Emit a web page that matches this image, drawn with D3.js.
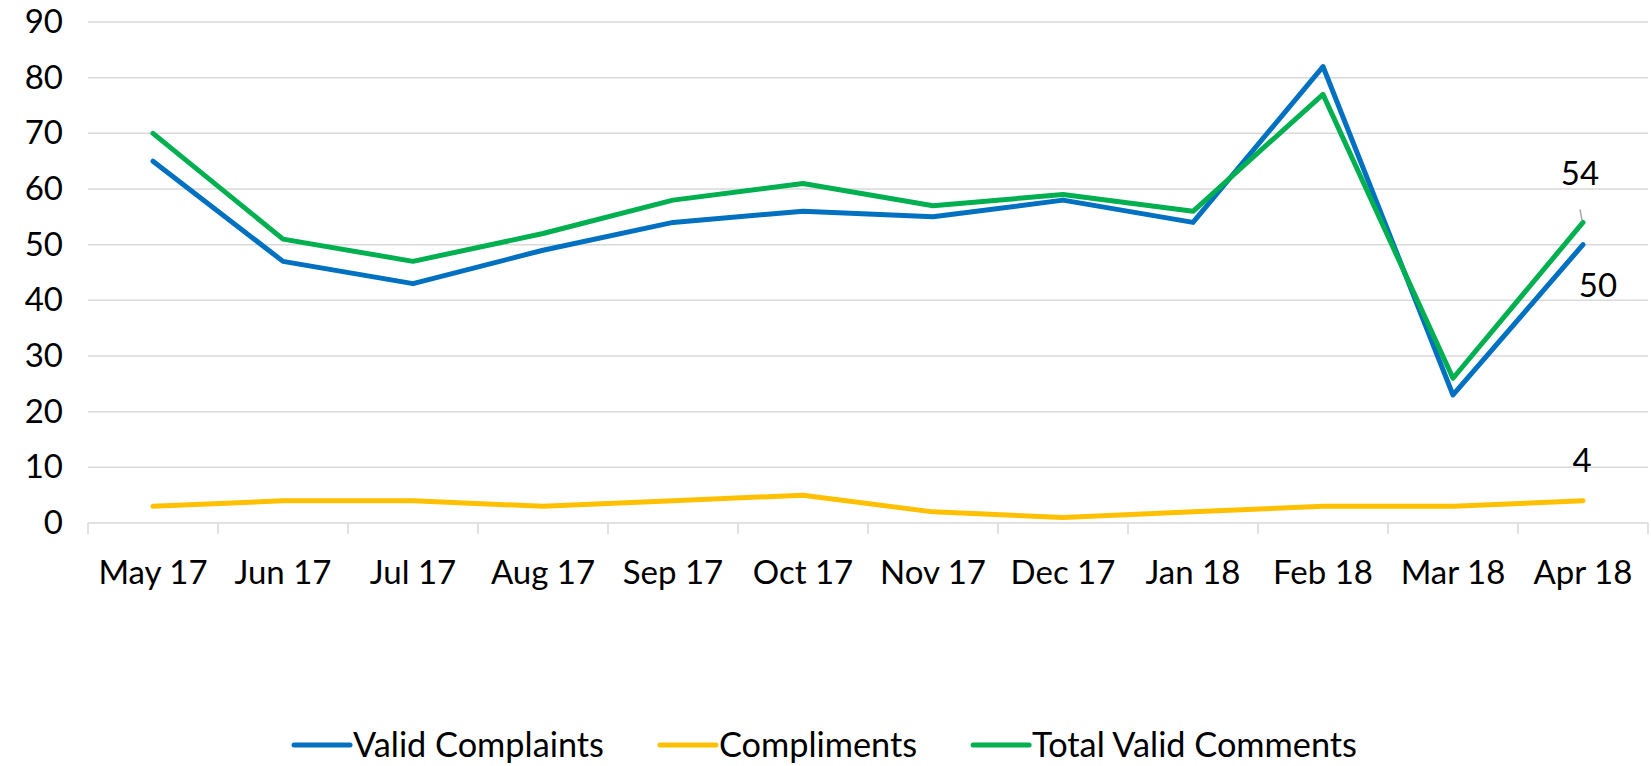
<!DOCTYPE html>
<html>
<head>
<meta charset="utf-8">
<script src="https://cdn.jsdelivr.net/npm/d3@7"></script>
<style>
  body { margin: 0; background: #fff; }
  text { font-family: Lato, "Open Sans", sans-serif; fill: #000; }
</style>
</head>
<body>
<div id="chart"></div>
<script>
// Chart data
const months = ["May 17", "Jun 17", "Jul 17", "Aug 17", "Sep 17", "Oct 17",
                "Nov 17", "Dec 17", "Jan 18", "Feb 18", "Mar 18", "Apr 18"];
const validComplaints = [65, 47, 43, 49, 54, 56, 55, 58, 54, 82, 23, 50];
const compliments = [3, 4, 4, 3, 4, 5, 2, 1, 2, 3, 3, 4];
const totalValidComments = [70, 51, 47, 52, 58, 61, 57, 59, 56, 77, 26, 54];
const yTicks = [0, 10, 20, 30, 40, 50, 60, 70, 80, 90];
const seriesNames = ["Valid Complaints", "Compliments", "Total Valid Comments"];

const width = 1651;
const height = 766;
const margin = ({ top: 22, right: 3, bottom: 243, left: 88 });
const colors = ["#0070C0", "#FFC000", "#00B050"];
const gridColor = "#d9d9d9";
const fontSize = 33;
const legendFontSize = 34.3;

const series = [validComplaints, compliments, totalValidComments].map((vals, i) => ({
    name: seriesNames[i],
    color: colors[i],
    values: vals.map((v, j) => ({ month: months[j], value: v }))
}));

var svg = d3.select("#chart").append("svg")
    .attr("width", width)
    .attr("height", height);

const xScale = d3.scaleBand()
    .domain(months)
    .range([margin.left, width - margin.right]);

const yScale = d3.scaleLinear()
    .domain([0, 90])
    .range([height - margin.bottom, margin.top]);

// horizontal gridlines
svg.append("g")
    .selectAll("line")
    .data(yTicks.filter(d => d > 0))
    .enter()
    .append("line")
    .attr("x1", margin.left)
    .attr("x2", width - margin.right)
    .attr("y1", d => yScale(d))
    .attr("y2", d => yScale(d))
    .attr("stroke", gridColor)
    .attr("stroke-width", 1.5);

// y axis labels (no axis line)
const yAxis = g => g
    .attr("transform", `translate(${margin.left}, 0)`)
    .call(d3.axisLeft(yScale).tickValues(yTicks).tickSize(0).tickPadding(25))
    .call(g => g.select(".domain").remove())
    .call(g => g.selectAll("text")
        .attr("font-size", fontSize)
        .attr("font-family", "Lato")
        .attr("fill", "#000"));
svg.append("g").call(yAxis);

// x axis, category boundaries as ticks
const xAxisG = svg.append("g")
    .attr("transform", `translate(0, ${yScale(0)})`);
xAxisG.append("line")
    .attr("x1", margin.left)
    .attr("x2", width - margin.right)
    .attr("stroke", gridColor)
    .attr("stroke-width", 1.5);
const boundaries = months.map(m => xScale(m)).concat([xScale.range()[1]]);
xAxisG.selectAll(".tick")
    .data(boundaries)
    .enter()
    .append("line")
    .attr("x1", d => d)
    .attr("x2", d => d)
    .attr("y1", 0)
    .attr("y2", 11)
    .attr("stroke", gridColor)
    .attr("stroke-width", 1.5);
xAxisG.selectAll(".label")
    .data(months)
    .enter()
    .append("text")
    .attr("x", d => xScale(d) + xScale.bandwidth() / 2)
    .attr("y", 61)
    .attr("text-anchor", "middle")
    .attr("font-size", fontSize)
    .text(d => d);

// the lines
const line = d3.line()
    .x(d => xScale(d.month) + xScale.bandwidth() / 2)
    .y(d => yScale(d.value));

svg.append("g")
    .selectAll("path")
    .data(series)
    .enter()
    .append("path")
    .attr("d", d => line(d.values))
    .attr("fill", "none")
    .attr("stroke", d => d.color)
    .attr("stroke-width", 5)
    .attr("stroke-linejoin", "round")
    .attr("stroke-linecap", "round");

// data labels on the last point
const lastX = xScale(months[months.length - 1]) + xScale.bandwidth() / 2;
const labelOffsets = [
    { dx: 15, dy: 52 },   // Valid Complaints: below right
    { dx: -1, dy: -29 },  // Compliments: above
    { dx: -3, dy: -37 }   // Total: above, with leader line
];
series.forEach((s, i) => {
    const last = s.values[s.values.length - 1];
    const py = yScale(last.value);
    svg.append("text")
        .attr("x", lastX + labelOffsets[i].dx)
        .attr("y", py + labelOffsets[i].dy)
        .attr("text-anchor", "middle")
        .attr("font-size", fontSize)
        .text(last.value);
    if (i === 2) {
        svg.append("line")
            .attr("x1", lastX - 3)
            .attr("y1", py - 13)
            .attr("x2", lastX - 1)
            .attr("y2", py - 2)
            .attr("stroke", "#a6a6a6")
            .attr("stroke-width", 1.5);
    }
});

// legend, centred on the page
const legend = svg.append("g");
let cursor = 0;
const legendY = 745;
series.forEach((s, i) => {
    const item = legend.append("g");
    item.append("line")
        .attr("x1", 0).attr("x2", 56)
        .attr("y1", 0).attr("y2", 0)
        .attr("stroke", s.color)
        .attr("stroke-width", 5)
        .attr("stroke-linecap", "round");
    const t = item.append("text")
        .attr("x", 59)
        .attr("y", 12)
        .attr("font-size", legendFontSize)
        .text(s.name);
    const w = 59 + t.node().getComputedTextLength();
    item.attr("transform", `translate(${cursor}, ${legendY})`);
    cursor += w + 56;
});
const legendWidth = cursor - 56;
legend.attr("transform", `translate(${(width - legendWidth) / 2}, 0)`);
</script>
</body>
</html>
